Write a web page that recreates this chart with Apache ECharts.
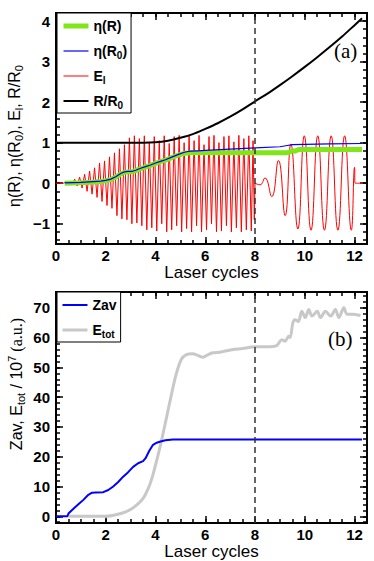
<!DOCTYPE html>
<html><head><meta charset="utf-8">
<script src="https://cdn.jsdelivr.net/npm/echarts@6/dist/echarts.min.js"></script>
<style>html,body{margin:0;padding:0;background:#fff}#c{width:374px;height:561px}</style>
</head><body><div id="c"></div>
<script>
// ---------- tick labels ----------
const xTicks = [0, 2, 4, 6, 8, 10, 12];
const yTicksA = [-1, 0, 1, 2, 3, 4];
const yTicksB = [0, 10, 20, 30, 40, 50, 60, 70];

// ---------- panel (a) ----------
// E_l field: extremes (laser cycles, value)
const elBefore = [
 [0,0],[0.3,0],[0.35,0.02],[0.45,-0.02],[0.55,0.05],[0.65,-0.04],[0.75,0.1],[0.85,-0.07],
 [0.95,0.15],[1.05,-0.12],[1.15,0.22],[1.25,-0.2],[1.35,0.3],[1.45,-0.27],[1.55,0.38],[1.65,-0.35],
 [1.75,0.5],[1.85,-0.45],[1.95,0.55],[2.05,-0.55],[2.15,0.65],[2.25,-0.62],[2.35,0.75],[2.45,-0.8],
 [2.55,0.85],[2.65,-0.88],[2.75,0.95],[2.85,-0.9],[2.95,1.12],[3.05,-1.0],[3.15,1.17],[3.25,-0.98],
 [3.35,1.1],[3.45,-1.05],[3.55,1.17],[3.65,-1.15],[3.75,1.0],[3.85,-1.1],[3.95,1.15],[4.05,-1.18],
 [4.15,1.05],[4.25,-1.0],[4.35,1.17],[4.45,-1.2],[4.55,0.98],[4.65,-1.15],[4.75,1.15],[4.85,-1.05],
 [4.95,1.18],[5.05,-1.2],[5.15,1.0],[5.25,-1.12],[5.35,1.17],[5.45,-1.2],[5.55,1.05],[5.65,-1.05],
 [5.75,1.18],[5.85,-1.2],[5.95,0.95],[6.05,-1.15],[6.15,1.15],[6.25,-1.0],[6.35,1.18],[6.45,-1.2],
 [6.55,1.0],[6.65,-1.18],[6.75,1.15],[6.85,-1.05],[6.95,1.17],[7.05,-1.2],[7.15,1.02],[7.25,-1.1],
 [7.35,1.18],[7.45,-1.2],[7.55,1.1],[7.65,-1.15],[7.75,1.17],[7.85,-1.18],[7.92,1.05],[7.97,-0.9],[8.0,0]
];
const elAfter = [
 [8.0,0],[8.2,-0.04],[8.4,0.13],[8.67,-0.33],[8.94,0.56],[9.21,-0.8],[9.44,0.97],[9.72,-1.13],
 [9.98,1.17],[10.25,-1.16],[10.52,1.17],[10.79,-1.16],[11.06,1.17],[11.33,-1.16],[11.6,1.17],
 [11.87,-1.16],[12.0,0.39],[12.02,0],[12.3,0]
];
const rOverR0 = [
 [0,1],[3.5,1.0],[4.0,1.01],[4.5,1.05],[5.0,1.12],[5.5,1.21],[6.0,1.34],[6.5,1.48],[7.0,1.64],
 [7.5,1.82],[8.0,2.02],[8.5,2.21],[9.0,2.42],[9.5,2.64],[10.0,2.87],[10.5,3.11],[11.0,3.36],
 [11.5,3.62],[12.0,3.9],[12.3,4.07]
];
const etaR0 = [
 [0.35,0.01],[1.0,0.02],[1.5,0.04],[1.8,0.05],[2.0,0.07],[2.2,0.1],[2.4,0.16],[2.6,0.24],[2.75,0.28],
 [2.9,0.29],[3.05,0.29],[3.2,0.32],[3.4,0.37],[3.6,0.41],[3.8,0.45],[4.0,0.5],[4.2,0.54],[4.4,0.58],
 [4.6,0.63],[4.8,0.68],[5.0,0.73],[5.2,0.77],[5.4,0.79],[5.7,0.8],[6.0,0.81],[7.0,0.84],[8.0,0.87],
 [9.0,0.9],[9.3,0.93],[9.5,0.95],[10.0,0.96],[11.0,0.97],[12.3,0.98]
];
const etaR = [
 [0.35,0.0],[1.0,0.01],[1.5,0.03],[1.8,0.04],[2.0,0.06],[2.2,0.09],[2.4,0.15],[2.6,0.23],[2.75,0.27],
 [2.9,0.28],[3.05,0.28],[3.2,0.31],[3.4,0.36],[3.6,0.4],[3.8,0.44],[4.0,0.49],[4.2,0.53],[4.4,0.57],
 [4.6,0.62],[4.8,0.67],[5.0,0.71],[5.2,0.74],[5.4,0.75],[6.0,0.75],[7.0,0.75],[8.0,0.75],[9.2,0.75],
 [9.35,0.76],[9.5,0.8],[9.6,0.79],[9.75,0.83],[10.0,0.83],[11.0,0.83],[12.3,0.83]
];

// ---------- panel (b) ----------
const zav = [
 [0,0],[0.46,0],[0.5,0.9],[0.7,2.5],[0.9,4],[1.1,5.5],[1.3,7.2],[1.45,7.9],[1.6,8.0],[1.9,8.1],
 [2.1,8.8],[2.3,10.0],[2.5,11.5],[2.7,13.3],[2.9,14.8],[3.1,16.6],[3.3,17.8],[3.5,18.5],[3.6,19.5],
 [3.75,22],[3.9,24],[4.05,24.7],[4.2,25.1],[4.4,25.5],[4.7,25.8],[5.0,25.8],[12.3,25.8]
];
const eTot = [
 [0.5,0],[2.0,0],[2.4,0.5],[2.8,1.5],[3.1,2.8],[3.5,6],[3.76,10.4],[3.9,14],[4.03,18.2],[4.23,25],
 [4.43,32.7],[4.63,40.5],[4.83,47.7],[5.04,52.7],[5.24,54.3],[5.5,54.6],[5.7,54],[5.91,53.4],[6.1,54.2],
 [6.31,54.9],[6.58,55.1],[6.8,55.5],[7.12,56],[7.5,56.3],[8.0,56.9],[8.47,56.9],[8.87,57.3],[9.07,59.3],
 [9.21,58.8],[9.35,60.4],[9.41,60],[9.52,64.9],[9.61,66],[9.74,65.4],[9.88,68.8],[10.02,66.7],
 [10.16,69.4],[10.29,67.2],[10.5,68.8],[10.63,66.7],[10.83,68.8],[11.04,67.2],[11.23,69.4],
 [11.37,66.7],[11.57,70],[11.7,67.8],[11.9,67.8],[12.24,67.4]
];

// minor tick positions
function steps(a, b, s) { const r = []; for (let i = 0; a + i * s <= b + 1e-9; i++) r.push(Math.round((a + i * s) * 100) / 100); return r; }
const xMinor = steps(0, 12.5, 0.5);
const yMinorA = steps(-1.4, 4.2, 0.2);
const yMinorB = steps(-2, 74, 2);

const FONT = '"Liberation Sans", Arial, Helvetica, sans-serif';
const SERIF = '"Liberation Serif", "Times New Roman", serif';
const tickStyle = { color: '#000', width: 1.5 };
const minus = v => String(v).replace('-', '\u2212');

function xAxes(grid) {
  const base = { type: 'value', gridIndex: grid, min: 0, max: 12.5, splitLine: { show: false },
    axisLine: { show: false, onZero: false } };
  return [
    Object.assign({}, base, { position: 'bottom',
      axisTick: { inside: true, length: 7, lineStyle: tickStyle, customValues: xTicks },
      axisLabel: { customValues: xTicks, color: '#000', fontFamily: FONT, fontWeight: 'bold', fontSize: 15, margin: 4 },
      name: 'Laser cycles', nameLocation: 'middle', nameGap: 17,
      nameTextStyle: { color: '#000', fontFamily: FONT, fontSize: 17 } }),
    Object.assign({}, base, { position: 'bottom', axisTick: { inside: true, length: 4, lineStyle: tickStyle, customValues: xMinor }, axisLabel: { show: false } }),
    Object.assign({}, base, { position: 'top', axisTick: { inside: true, length: 7, lineStyle: tickStyle, customValues: xTicks }, axisLabel: { show: false } }),
    Object.assign({}, base, { position: 'top', axisTick: { inside: true, length: 4, lineStyle: tickStyle, customValues: xMinor }, axisLabel: { show: false } })
  ];
}
function yAxes(grid, min, max, major, minor) {
  const base = { type: 'value', gridIndex: grid, min: min, max: max, splitLine: { show: false },
    axisLine: { show: false, onZero: false } };
  return [
    Object.assign({}, base, { position: 'left',
      axisTick: { inside: true, length: 7, lineStyle: tickStyle, customValues: major },
      axisLabel: { customValues: major, formatter: minus, color: '#000', fontFamily: FONT, fontWeight: 'bold', fontSize: 15, margin: 6 } }),
    Object.assign({}, base, { position: 'left', axisTick: { inside: true, length: 4, lineStyle: tickStyle, customValues: minor }, axisLabel: { show: false } }),
    Object.assign({}, base, { position: 'right', axisTick: { inside: true, length: 7, lineStyle: tickStyle, customValues: major }, axisLabel: { show: false } }),
    Object.assign({}, base, { position: 'right', axisTick: { inside: true, length: 4, lineStyle: tickStyle, customValues: minor }, axisLabel: { show: false } })
  ];
}
const nameRich = {
  n: { fontFamily: FONT, fontSize: 16, lineHeight: 20, verticalAlign: 'middle', fill: '#000' },
  s: { fontFamily: FONT, fontSize: 11, lineHeight: 10, verticalAlign: 'bottom', fill: '#000' },
  p: { fontFamily: FONT, fontSize: 11, lineHeight: 10, verticalAlign: 'top', fill: '#000' },
  u: { fontFamily: SERIF, fontSize: 16, lineHeight: 20, verticalAlign: 'middle', fill: '#000' }
};
const legRich = {
  s: { fontFamily: FONT, fontSize: 10, fontWeight: 'bold', lineHeight: 9, verticalAlign: 'bottom', color: '#000' }
};
const legendNames = {
  etaR: 'η(R)', etaR0: 'η(R{s|0})', El: 'E{s|l}', RR0: 'R/R{s|0}', Zav: 'Zav', Etot: 'E{s|tot}'
};
const dashed = { silent: true, symbol: ['none', 'none'], label: { show: false },
  lineStyle: { type: [6, 4], color: '#333', width: 1.5 }, data: [{ xAxis: 8 }] };

function line(name, data, xi, yi, color, width, z, extra) {
  return Object.assign({ type: 'line', name: name, data: data, xAxisIndex: xi, yAxisIndex: yi,
    symbol: 'none', showSymbol: false, z: z, animation: false,
    lineStyle: { color: color, width: width }, itemStyle: { color: color } }, extra || {});
}

const legendBase = {
  orient: 'vertical', left: 57, itemWidth: 25, itemHeight: 12, itemGap: 7,
  padding: [4, 4, 3, 4], borderColor: '#000', borderWidth: 1, backgroundColor: '#fff',
  lineStyle: { width: 'inherit' }, itemStyle: { opacity: 0 }, selectedMode: false,
  formatter: n => legendNames[n],
  textStyle: { color: '#000', fontFamily: FONT, fontWeight: 'bold', fontSize: 14, lineHeight: 18, rich: legRich }
};

function yName(x, y, text) {
  return { type: 'text', x: x, y: y, rotation: Math.PI / 2, silent: true,
    style: { text: text, rich: nameRich, fill: '#000', font: '16px ' + FONT, align: 'center', verticalAlign: 'middle' } };
}

const chart = echarts.init(document.getElementById('c'), null, { renderer: 'svg' });
chart.setOption({
  backgroundColor: '#fff',
  animation: false,
  grid: [
    { left: 56, top: 13, width: 311, height: 231, show: true, borderColor: '#000', borderWidth: 2, backgroundColor: 'transparent' },
    { left: 56, top: 292, width: 311, height: 233, show: true, borderColor: '#000', borderWidth: 2, backgroundColor: 'transparent' }
  ],
  xAxis: xAxes(0).concat(xAxes(1)),
  yAxis: yAxes(0, -1.5, 4.2, yTicksA, yMinorA).concat(yAxes(1, -2.3, 75.3, yTicksB, yMinorB)),
  legend: [
    Object.assign({}, legendBase, { top: 13, data: ['etaR', 'etaR0', 'El', 'RR0'] }),
    Object.assign({}, legendBase, { top: 292, data: ['Zav', 'Etot'] })
  ],
  series: [
    line('El', elBefore, 0, 0, '#ff0000', 1, 1),
    line('El', elAfter, 0, 0, '#ff0000', 1, 1, { smooth: 0.5 }),
    line('RR0', rOverR0, 0, 0, '#000000', 2, 2, { smooth: 0.3, markLine: dashed }),
    line('etaR', etaR, 0, 0, '#80e61a', 5, 3),
    line('etaR0', etaR0, 0, 0, '#0000ff', 1.2, 4),
    line('Etot', eTot, 4, 4, '#c8c8c8', 3, 2, { smooth: 0.3 }),
    line('Zav', zav, 4, 4, '#0000ff', 2, 3, { markLine: dashed })
  ],
  graphic: [
    yName(14, 136, '{n|η(R), η(R}{s|0}{n|), E}{s|l}{n|, R/R}{s|0}'),
    yName(16, 384, '{n|Zav, E}{s|tot}{n| / 10}{p|7}{u| (a.u.)}'),
    { type: 'text', left: 334, top: 40, style: { text: '(a)', fill: '#000', font: '21px ' + SERIF } },
    { type: 'text', left: 328, top: 328, style: { text: '(b)', fill: '#000', font: '21px ' + SERIF } }
  ]
});
</script></body></html>
